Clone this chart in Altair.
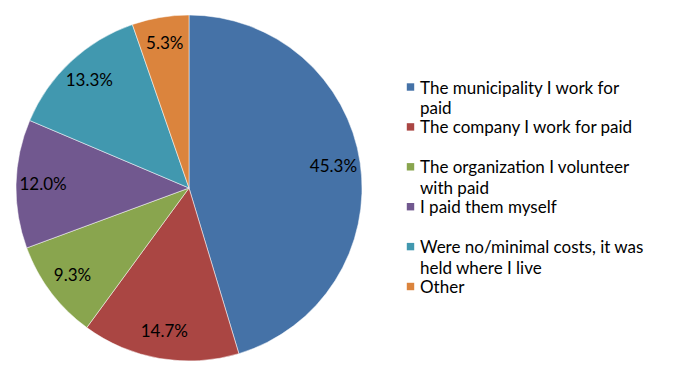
import altair as alt
import pandas as pd

categories = [
    "The municipality I work for paid",
    "The company I work for paid",
    "The organization I volunteer with paid",
    "I paid them myself",
    "Were no/minimal costs, it was held where I live",
    "Other",
]
legend_labels = [
    "The municipality I work for\npaid",
    "The company I work for paid",
    "The organization I volunteer\nwith paid",
    "I paid them myself",
    "Were no/minimal costs, it was\nheld where I live",
    "Other",
]
percents = [45.3, 14.7, 9.3, 12.0, 13.3, 5.3]
colors = ["#4572A7", "#AA4643", "#89A54E", "#71588F", "#4198AF", "#DB843D"]

df = pd.DataFrame({
    "category": categories,
    "legend": legend_labels,
    "pct": percents,
    "order": list(range(len(categories))),
})
df["label"] = df["pct"].map(lambda v: f"{v:.1f}%")

FONT = "Lato"
FS = 17
CX, CY, R = 181, 180, 173

color = alt.Color("category:N", scale=alt.Scale(domain=categories, range=colors), legend=None)

base = alt.Chart(df)

arcs = base.mark_arc(outerRadius=R, stroke="#ffffff", strokeWidth=0.5).encode(
    theta=alt.Theta("pct:Q", stack=True),
    order=alt.Order("order:Q"),
    color=color,
    x=alt.value(CX),
    y=alt.value(CY),
)

labels = base.mark_text(radius=146, font=FONT, fontSize=FS, color="#000000").encode(
    theta=alt.Theta("pct:Q", stack=True),
    order=alt.Order("order:Q"),
    text="label:N",
    x=alt.value(CX),
    y=alt.value(CY),
)

yscale = alt.Scale(domain=categories, type="point", range=[79, 278.5], padding=0)

legend_sq = base.mark_square(size=55, opacity=1).encode(
    x=alt.value(402.5),
    y=alt.Y("category:N", scale=yscale, axis=None),
    color=color,
)

legend_txt = base.mark_text(
    align="left", baseline="alphabetic", dy=6.5, font=FONT, fontSize=FS,
    lineBreak="\n", lineHeight=20.5, color="#000000",
).encode(
    x=alt.value(412),
    y=alt.Y("category:N", scale=yscale, axis=None),
    text="legend:N",
)

chart = alt.layer(arcs, labels, legend_sq, legend_txt).properties(
    width=665, height=363, padding=0, autosize="none", background="#ffffff",
).configure_view(stroke=None)

chart.save("out.html", embed_options={"renderer": "svg", "actions": False})
